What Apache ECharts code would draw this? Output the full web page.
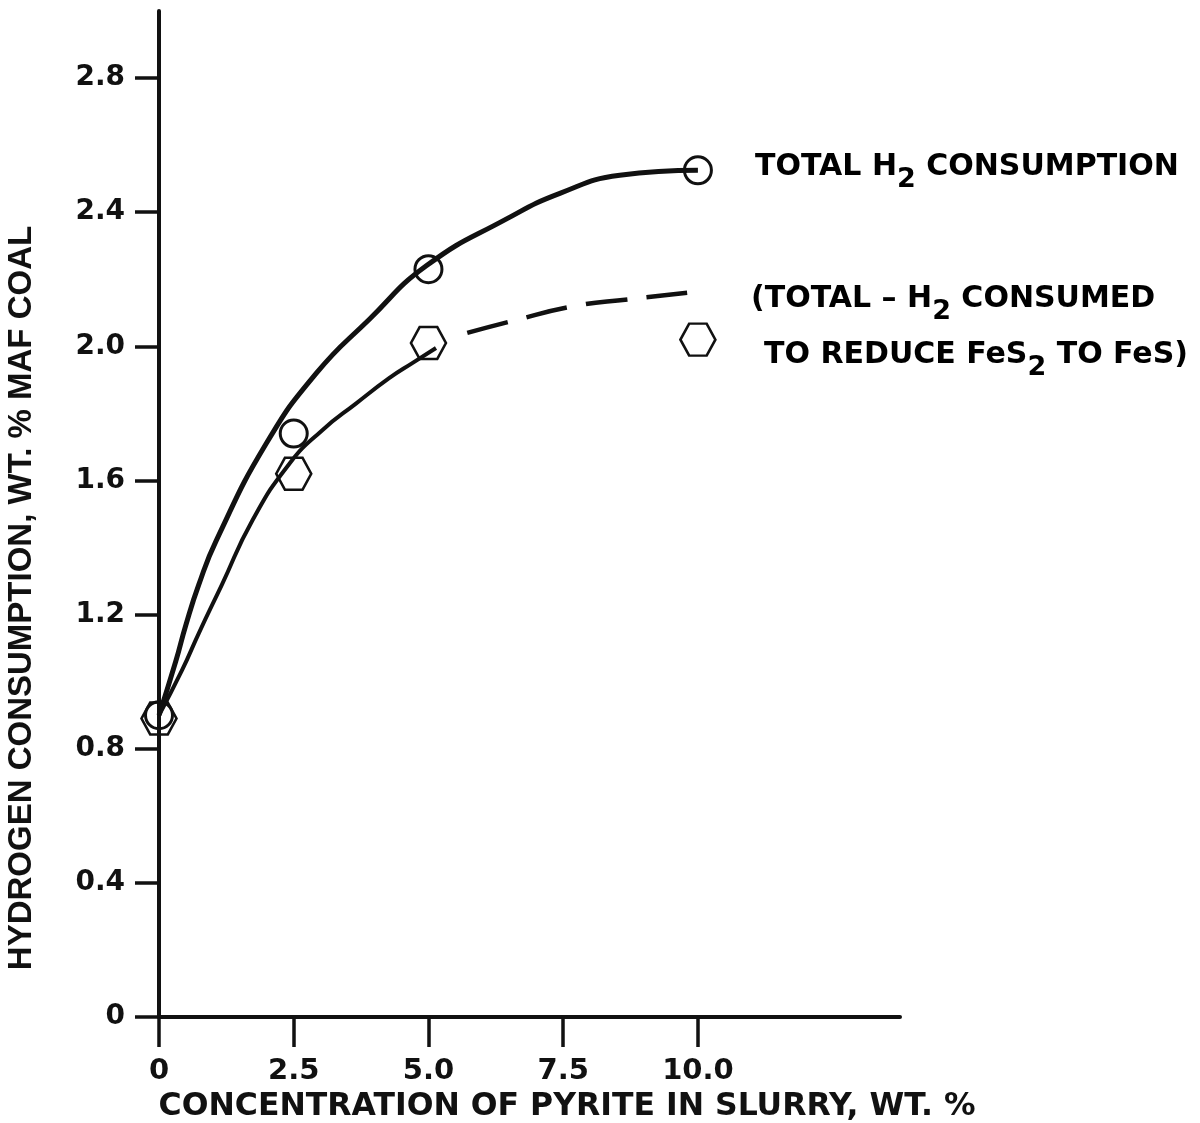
<!DOCTYPE html>
<html>
<head>
<meta charset="utf-8">
<script src="https://cdn.jsdelivr.net/npm/echarts@6/dist/echarts.min.js"></script>
<style>
html,body{margin:0;padding:0;background:#fff;}
#chart{width:1200px;height:1123px;}
</style>
</head>
<body>
<div id="chart"></div>
<script>
// ---- data ----
var xTickValues = [0, 2.5, 5.0, 7.5, 10.0];
var xTickLabels = ['0', '2.5', '5.0', '7.5', '10.0'];
var yTickValues = [0, 0.4, 0.8, 1.2, 1.6, 2.0, 2.4, 2.8];
var yTickLabels = ['0', '0.4', '0.8', '1.2', '1.6', '2.0', '2.4', '2.8'];

// measured points: total H2 consumption (circles)
var totalX = [0, 2.5, 5.0, 10.0];
var totalY = [0.90, 1.74, 2.23, 2.525];
// measured points: total - H2 consumed to reduce FeS2 to FeS (hexagons)
var netX = [0, 2.5, 5.0, 10.0];
var netY = [0.89, 1.62, 2.01, 2.02];

// hand-drawn curve through total points
var totalCurveX = [0, 0.31, 0.5, 0.74, 1.06, 1.99, 2.92, 3.9, 4.96, 6.45, 7.45, 8.55, 10.0];
var totalCurveY = [0.90, 1.06, 1.17, 1.29, 1.42, 1.71, 1.92, 2.08, 2.24, 2.38, 2.457, 2.51, 2.525];
// hand-drawn solid curve through net points
var netCurveX = [0, 0.43, 0.74, 1.17, 1.73, 2.42, 3.03, 3.66, 4.27, 4.70, 5.14];
var netCurveY = [0.90, 1.035, 1.145, 1.29, 1.48, 1.65, 1.75, 1.83, 1.905, 1.95, 1.995];
// dashed extrapolation
var netDashX = [5.72, 6.54, 7.71, 8.7, 9.8];
var netDashY = [2.04, 2.075, 2.12, 2.14, 2.16];

function pairs(xs, ys) { return xs.map(function (x, i) { return [x, ys[i]]; }); }

var hexPath = 'path://M0,0.866 L0.5,0 L1.5,0 L2,0.866 L1.5,1.732 L0.5,1.732 Z';
var ink = '#111';

var chart = echarts.init(document.getElementById('chart'), null, {renderer: 'canvas'});
var legendRich = {
  t: {fontFamily: 'DejaVu Sans', fontWeight: 'bold', fontSize: 30, color: ink, lineHeight: 30, verticalAlign: 'top'},
  s: {fontFamily: 'DejaVu Sans', fontWeight: 'bold', fontSize: 27, color: ink, lineHeight: 30, verticalAlign: 'top', padding: [14, 0, 0, 0]}
};
chart.setOption({
  backgroundColor: '#ffffff',
  animation: false,
  grid: {left: 159, right: 300, top: 11, bottom: 106, containLabel: false},
  xAxis: {
    type: 'value', min: 0, max: 13.75, interval: 2.5,
    splitLine: {show: false},
    axisLine: {show: true, onZero: false, lineStyle: {color: ink, width: 4}},
    axisTick: {show: true, length: 30, customValues: xTickValues, lineStyle: {color: ink, width: 3.5}},
    axisLabel: {
      show: true, margin: 40, customValues: xTickValues,
      formatter: function (v) { var i = xTickValues.indexOf(v); return i >= 0 ? xTickLabels[i] : ''; },
      fontFamily: 'DejaVu Sans', fontWeight: 'bold', fontSize: 29, color: ink
    }
  },
  yAxis: {
    type: 'value', min: 0, max: 3.0, interval: 0.4,
    splitLine: {show: false},
    axisLine: {show: true, onZero: false, lineStyle: {color: ink, width: 4}},
    axisTick: {show: true, length: 24, customValues: yTickValues, lineStyle: {color: ink, width: 3.5}},
    axisLabel: {
      show: true, margin: 34, customValues: yTickValues,
      formatter: function (v) { var i = -1; for (var k = 0; k < yTickValues.length; k++) { if (Math.abs(yTickValues[k] - v) < 1e-6) i = k; } return i >= 0 ? yTickLabels[i] : ''; },
      fontFamily: 'DejaVu Sans', fontWeight: 'bold', fontSize: 28, color: ink
    }
  },
  graphic: [
    {type: 'text', x: 22, y: 598, rotation: Math.PI / 2,
     style: {text: 'HYDROGEN CONSUMPTION, WT. % MAF COAL', font: 'bold 33px "Liberation Sans", Arial, sans-serif', fill: ink, align: 'center', verticalAlign: 'middle'}},
    {type: 'text', x: 567, y: 1107,
     style: {text: 'CONCENTRATION OF PYRITE IN SLURRY, WT. %', font: 'bold 31.5px "DejaVu Sans", sans-serif', fill: ink, align: 'center', verticalAlign: 'middle'}},
    {type: 'text', x: 755, y: 152,
     style: {text: '{t|TOTAL H}{s|2}{t| CONSUMPTION}', rich: legendRich, align: 'left', verticalAlign: 'top'}},
    {type: 'text', x: 751, y: 284,
     style: {text: '{t|(TOTAL \u2013 H}{s|2}{t| CONSUMED}', rich: legendRich, align: 'left', verticalAlign: 'top'}},
    {type: 'text', x: 764, y: 340,
     style: {text: '{t|TO REDUCE FeS}{s|2}{t| TO FeS)}', rich: legendRich, align: 'left', verticalAlign: 'top'}}
  ],
  series: [
    {type: 'line', name: 'total curve', data: pairs(totalCurveX, totalCurveY), smooth: 0.5, showSymbol: false, symbol: 'none',
     lineStyle: {color: ink, width: 5}, z: 3},
    {type: 'line', name: 'net curve', data: pairs(netCurveX, netCurveY), smooth: 0.5, showSymbol: false, symbol: 'none',
     lineStyle: {color: ink, width: 4}, z: 3},
    {type: 'line', name: 'net dashed', data: pairs(netDashX, netDashY), smooth: 0.5, showSymbol: false, symbol: 'none',
     lineStyle: {color: ink, width: 4.5, type: [42, 19]}, z: 3},
    {type: 'scatter', name: 'TOTAL H2 CONSUMPTION', data: pairs(totalX, totalY), symbol: 'circle', symbolSize: 27,
     itemStyle: {color: 'rgba(0,0,0,0)', borderColor: ink, borderWidth: 3, opacity: 1}, z: 4},
    {type: 'scatter', name: '(TOTAL - H2 CONSUMED TO REDUCE FeS2 TO FeS)', data: pairs(netX, netY), symbol: hexPath, symbolSize: [35, 32],
     itemStyle: {color: 'rgba(0,0,0,0)', borderColor: ink, borderWidth: 2.5, opacity: 1}, z: 4}
  ]
});
</script>
</body>
</html>
